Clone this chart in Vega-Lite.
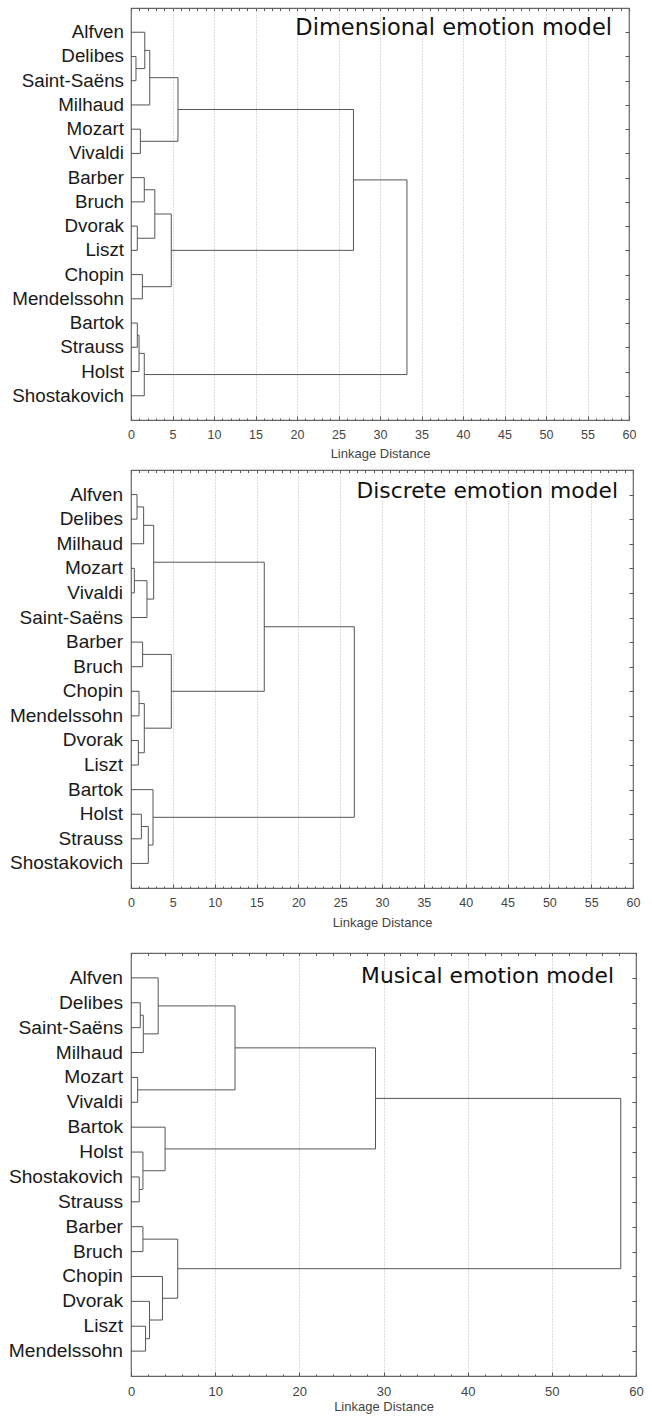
{
  "$schema": "https://vega.github.io/schema/vega-lite/v6.json",
  "background": "white",
  "padding": {"top": 6, "left": 8, "right": 5, "bottom": 2},
  "config": {"font": "Liberation Sans", "view": {"stroke": "#666", "strokeWidth": 1.2}},
  "spacing": 6,
  "datasets": {
    "dim_leaves": [
      {"name": "Alfven", "row": 1}, {"name": "Delibes", "row": 2}, {"name": "Saint-Saëns", "row": 3}, {"name": "Milhaud", "row": 4},
      {"name": "Mozart", "row": 5}, {"name": "Vivaldi", "row": 6}, {"name": "Barber", "row": 7}, {"name": "Bruch", "row": 8},
      {"name": "Dvorak", "row": 9}, {"name": "Liszt", "row": 10}, {"name": "Chopin", "row": 11}, {"name": "Mendelssohn", "row": 12},
      {"name": "Bartok", "row": 13}, {"name": "Strauss", "row": 14}, {"name": "Holst", "row": 15}, {"name": "Shostakovich", "row": 16}
    ],
    "dim_merges": [
      {"height": 0.6, "top": 2, "bottom": 3, "topFrom": 0, "bottomFrom": 0},
      {"height": 1.66, "top": 1, "bottom": 2.5, "topFrom": 0, "bottomFrom": 0.6},
      {"height": 2.26, "top": 1.75, "bottom": 4, "topFrom": 1.66, "bottomFrom": 0},
      {"height": 1.13, "top": 5, "bottom": 6, "topFrom": 0, "bottomFrom": 0},
      {"height": 5.66, "top": 2.875, "bottom": 5.5, "topFrom": 2.26, "bottomFrom": 1.13},
      {"height": 1.6, "top": 7, "bottom": 8, "topFrom": 0, "bottomFrom": 0},
      {"height": 0.76, "top": 9, "bottom": 10, "topFrom": 0, "bottomFrom": 0},
      {"height": 2.87, "top": 7.5, "bottom": 9.5, "topFrom": 1.6, "bottomFrom": 0.76},
      {"height": 1.37, "top": 11, "bottom": 12, "topFrom": 0, "bottomFrom": 0},
      {"height": 4.85, "top": 8.5, "bottom": 11.5, "topFrom": 2.87, "bottomFrom": 1.37},
      {"height": 26.8, "top": 4.1875, "bottom": 10, "topFrom": 5.66, "bottomFrom": 4.85},
      {"height": 0.76, "top": 13, "bottom": 14, "topFrom": 0, "bottomFrom": 0},
      {"height": 0.97, "top": 13.5, "bottom": 15, "topFrom": 0.76, "bottomFrom": 0},
      {"height": 1.6, "top": 14.25, "bottom": 16, "topFrom": 0.97, "bottomFrom": 0},
      {"height": 33.25, "top": 7.09375, "bottom": 15.125, "topFrom": 26.8, "bottomFrom": 1.6}
    ],
    "dis_leaves": [
      {"name": "Alfven", "row": 1}, {"name": "Delibes", "row": 2}, {"name": "Milhaud", "row": 3}, {"name": "Mozart", "row": 4},
      {"name": "Vivaldi", "row": 5}, {"name": "Saint-Saëns", "row": 6}, {"name": "Barber", "row": 7}, {"name": "Bruch", "row": 8},
      {"name": "Chopin", "row": 9}, {"name": "Mendelssohn", "row": 10}, {"name": "Dvorak", "row": 11}, {"name": "Liszt", "row": 12},
      {"name": "Bartok", "row": 13}, {"name": "Holst", "row": 14}, {"name": "Strauss", "row": 15}, {"name": "Shostakovich", "row": 16}
    ],
    "dis_merges": [
      {"height": 0.72, "top": 1, "bottom": 2, "topFrom": 0, "bottomFrom": 0},
      {"height": 1.51, "top": 1.5, "bottom": 3, "topFrom": 0.72, "bottomFrom": 0},
      {"height": 0.4, "top": 4, "bottom": 5, "topFrom": 0, "bottomFrom": 0},
      {"height": 1.91, "top": 4.5, "bottom": 6, "topFrom": 0.4, "bottomFrom": 0},
      {"height": 2.71, "top": 2.25, "bottom": 5.25, "topFrom": 1.51, "bottomFrom": 1.91},
      {"height": 1.39, "top": 7, "bottom": 8, "topFrom": 0, "bottomFrom": 0},
      {"height": 0.96, "top": 9, "bottom": 10, "topFrom": 0, "bottomFrom": 0},
      {"height": 0.88, "top": 11, "bottom": 12, "topFrom": 0, "bottomFrom": 0},
      {"height": 1.59, "top": 9.5, "bottom": 11.5, "topFrom": 0.96, "bottomFrom": 0.88},
      {"height": 4.82, "top": 7.5, "bottom": 10.5, "topFrom": 1.39, "bottomFrom": 1.59},
      {"height": 15.93, "top": 3.75, "bottom": 9, "topFrom": 2.71, "bottomFrom": 4.82},
      {"height": 1.24, "top": 14, "bottom": 15, "topFrom": 0, "bottomFrom": 0},
      {"height": 2.07, "top": 14.5, "bottom": 16, "topFrom": 1.24, "bottomFrom": 0},
      {"height": 2.63, "top": 13, "bottom": 15.25, "topFrom": 0, "bottomFrom": 2.07},
      {"height": 26.69, "top": 6.375, "bottom": 14.125, "topFrom": 15.93, "bottomFrom": 2.63}
    ],
    "mus_leaves": [
      {"name": "Alfven", "row": 1}, {"name": "Delibes", "row": 2}, {"name": "Saint-Saëns", "row": 3}, {"name": "Milhaud", "row": 4},
      {"name": "Mozart", "row": 5}, {"name": "Vivaldi", "row": 6}, {"name": "Bartok", "row": 7}, {"name": "Holst", "row": 8},
      {"name": "Shostakovich", "row": 9}, {"name": "Strauss", "row": 10}, {"name": "Barber", "row": 11}, {"name": "Bruch", "row": 12},
      {"name": "Chopin", "row": 13}, {"name": "Dvorak", "row": 14}, {"name": "Liszt", "row": 15}, {"name": "Mendelssohn", "row": 16}
    ],
    "mus_merges": [
      {"height": 1.1, "top": 2, "bottom": 3, "topFrom": 0, "bottomFrom": 0},
      {"height": 1.46, "top": 2.5, "bottom": 4, "topFrom": 1.1, "bottomFrom": 0},
      {"height": 3.23, "top": 1, "bottom": 3.25, "topFrom": 0, "bottomFrom": 1.46},
      {"height": 0.79, "top": 5, "bottom": 6, "topFrom": 0, "bottomFrom": 0},
      {"height": 12.36, "top": 2.125, "bottom": 5.5, "topFrom": 3.23, "bottomFrom": 0.79},
      {"height": 0.98, "top": 9, "bottom": 10, "topFrom": 0, "bottomFrom": 0},
      {"height": 1.42, "top": 8, "bottom": 9.5, "topFrom": 0, "bottomFrom": 0.98},
      {"height": 4.05, "top": 7, "bottom": 8.75, "topFrom": 0, "bottomFrom": 1.42},
      {"height": 29.05, "top": 3.8125, "bottom": 7.875, "topFrom": 12.36, "bottomFrom": 4.05},
      {"height": 1.42, "top": 11, "bottom": 12, "topFrom": 0, "bottomFrom": 0},
      {"height": 1.73, "top": 15, "bottom": 16, "topFrom": 0, "bottomFrom": 0},
      {"height": 2.2, "top": 14, "bottom": 15.5, "topFrom": 0, "bottomFrom": 1.73},
      {"height": 3.74, "top": 13, "bottom": 14.75, "topFrom": 0, "bottomFrom": 2.2},
      {"height": 5.55, "top": 11.5, "bottom": 13.875, "topFrom": 1.42, "bottomFrom": 3.74},
      {"height": 58.19, "top": 5.84375, "bottom": 12.6875, "topFrom": 29.05, "bottomFrom": 5.55}
    ]
  },
  "vconcat": [
    {
      "width": 498, "height": 412,
      "title": {"text": "Dimensional emotion model", "anchor": "end", "frame": "group", "orient": "top", "offset": -50, "baseline": "alphabetic", "dx": -17, "font": "DejaVu Sans", "fontSize": 22.5, "fontWeight": "normal", "color": "#111"},
      "resolve": {"axis": {"x": "independent", "y": "independent"}},
      "layer": [
        {
          "data": {"name": "dim_merges"},
          "mark": {"type": "rule", "color": "#555", "strokeWidth": 1},
          "encoding": {
            "x": {"field": "height", "type": "quantitative", "scale": {"domain": [0, 60], "nice": false, "zero": false},
              "axis": {"orient": "bottom", "title": "Linkage Distance", "values": [0,1,2,3,4,5,6,7,8,9,10,11,12,13,14,15,16,17,18,19,20,21,22,23,24,25,26,27,28,29,30,31,32,33,34,35,36,37,38,39,40,41,42,43,44,45,46,47,48,49,50,51,52,53,54,55,56,57,58,59,60],
                "labelExpr": "datum.value % 5 === 0 ? datum.label : ''", "labelOverlap": false, "labelFlush": false, "labelFont": "Liberation Sans", "labelFontSize": 12.5, "labelColor": "#444", "labelPadding": 12,
                "ticks": true, "tickColor": "#555", "tickSize": {"condition": {"test": "datum.value % 5 === 0", "value": -4}, "value": -2},
                "domain": false, "grid": true, "gridColor": "#bbb", "gridDash": [1, 2],
                "gridOpacity": {"condition": {"test": "datum.value % 5 === 0 && datum.value > 0 && datum.value < 60", "value": 1}, "value": 0},
                "titleFont": "Liberation Sans", "titleFontSize": 13, "titleFontWeight": "normal", "titleColor": "#444", "titlePadding": 5}},
            "y": {"field": "top", "type": "quantitative", "scale": {"domain": [0, 17], "reverse": true, "nice": false, "zero": false},
              "axis": {"orient": "right", "values": [1,2,3,4,5,6,7,8,9,10,11,12,13,14,15,16], "labels": false, "tickSize": -4, "tickColor": "#555", "domain": false, "grid": false, "title": null}},
            "y2": {"field": "bottom"}
          }
        },
        {
          "data": {"name": "dim_merges"},
          "mark": {"type": "rule", "color": "#555", "strokeWidth": 1},
          "encoding": {
            "x": {"field": "topFrom", "type": "quantitative",
              "axis": {"orient": "top", "values": [0,1,2,3,4,5,6,7,8,9,10,11,12,13,14,15,16,17,18,19,20,21,22,23,24,25,26,27,28,29,30,31,32,33,34,35,36,37,38,39,40,41,42,43,44,45,46,47,48,49,50,51,52,53,54,55,56,57,58,59,60],
                "labels": false, "ticks": true, "tickColor": "#555", "tickSize": -2.5, "domain": false, "grid": false, "title": null}},
            "x2": {"field": "height"},
            "y": {"field": "top", "type": "quantitative", "axis": null}
          }
        },
        {
          "data": {"name": "dim_merges"},
          "mark": {"type": "rule", "color": "#555", "strokeWidth": 1},
          "encoding": {
            "x": {"field": "bottomFrom", "type": "quantitative", "axis": null},
            "x2": {"field": "height"},
            "y": {"field": "bottom", "type": "quantitative", "axis": null}
          }
        },
        {
          "data": {"name": "dim_leaves"},
          "mark": {"type": "text", "align": "right", "baseline": "middle", "dx": -7, "font": "Liberation Sans", "fontSize": 18.8, "color": "#1a1a1a"},
          "encoding": {
            "x": {"datum": 0, "type": "quantitative", "axis": null},
            "y": {"field": "row", "type": "quantitative", "axis": null},
            "text": {"field": "name"}
          }
        }
      ]
    },
    {
      "width": 502, "height": 418,
      "title": {"text": "Discrete emotion model", "anchor": "end", "frame": "group", "orient": "top", "offset": -50, "baseline": "alphabetic", "dx": -15, "font": "DejaVu Sans", "fontSize": 21.8, "fontWeight": "normal", "color": "#111"},
      "resolve": {"axis": {"x": "independent", "y": "independent"}},
      "layer": [
        {
          "data": {"name": "dis_merges"},
          "mark": {"type": "rule", "color": "#555", "strokeWidth": 1},
          "encoding": {
            "x": {"field": "height", "type": "quantitative", "scale": {"domain": [0, 60], "nice": false, "zero": false},
              "axis": {"orient": "bottom", "title": ["Linkage Distance", " "], "titleLineHeight": 14, "values": [0,1,2,3,4,5,6,7,8,9,10,11,12,13,14,15,16,17,18,19,20,21,22,23,24,25,26,27,28,29,30,31,32,33,34,35,36,37,38,39,40,41,42,43,44,45,46,47,48,49,50,51,52,53,54,55,56,57,58,59,60],
                "labelExpr": "datum.value % 5 === 0 ? datum.label : ''", "labelOverlap": false, "labelFlush": false, "labelFont": "Liberation Sans", "labelFontSize": 12.5, "labelColor": "#444", "labelPadding": 12,
                "ticks": true, "tickColor": "#555", "tickSize": {"condition": {"test": "datum.value % 5 === 0", "value": -4}, "value": -2},
                "domain": false, "grid": true, "gridColor": "#bbb", "gridDash": [1, 2],
                "gridOpacity": {"condition": {"test": "datum.value % 5 === 0 && datum.value > 0 && datum.value < 60", "value": 1}, "value": 0},
                "titleFont": "Liberation Sans", "titleFontSize": 13, "titleFontWeight": "normal", "titleColor": "#444", "titlePadding": 6}},
            "y": {"field": "top", "type": "quantitative", "scale": {"domain": [0, 17], "reverse": true, "nice": false, "zero": false},
              "axis": {"orient": "right", "values": [1,2,3,4,5,6,7,8,9,10,11,12,13,14,15,16], "labels": false, "tickSize": -4, "tickColor": "#555", "domain": false, "grid": false, "title": null}},
            "y2": {"field": "bottom"}
          }
        },
        {
          "data": {"name": "dis_merges"},
          "mark": {"type": "rule", "color": "#555", "strokeWidth": 1},
          "encoding": {
            "x": {"field": "topFrom", "type": "quantitative",
              "axis": {"orient": "top", "values": [0,1,2,3,4,5,6,7,8,9,10,11,12,13,14,15,16,17,18,19,20,21,22,23,24,25,26,27,28,29,30,31,32,33,34,35,36,37,38,39,40,41,42,43,44,45,46,47,48,49,50,51,52,53,54,55,56,57,58,59,60],
                "labels": false, "ticks": true, "tickColor": "#555", "tickSize": -2.5, "domain": false, "grid": false, "title": null}},
            "x2": {"field": "height"},
            "y": {"field": "top", "type": "quantitative", "axis": null}
          }
        },
        {
          "data": {"name": "dis_merges"},
          "mark": {"type": "rule", "color": "#555", "strokeWidth": 1},
          "encoding": {
            "x": {"field": "bottomFrom", "type": "quantitative", "axis": null},
            "x2": {"field": "height"},
            "y": {"field": "bottom", "type": "quantitative", "axis": null}
          }
        },
        {
          "data": {"name": "dis_leaves"},
          "mark": {"type": "text", "align": "right", "baseline": "middle", "dx": -8, "font": "Liberation Sans", "fontSize": 19, "color": "#1a1a1a"},
          "encoding": {
            "x": {"datum": 0, "type": "quantitative", "axis": null},
            "y": {"field": "row", "type": "quantitative", "axis": null},
            "text": {"field": "name"}
          }
        }
      ]
    },
    {
      "width": 505, "height": 423,
      "title": {"text": "Musical emotion model", "anchor": "end", "frame": "group", "orient": "top", "offset": -52, "baseline": "alphabetic", "dx": -22, "font": "DejaVu Sans", "fontSize": 21.8, "fontWeight": "normal", "color": "#111"},
      "resolve": {"axis": {"x": "independent", "y": "independent"}},
      "layer": [
        {
          "data": {"name": "mus_merges"},
          "mark": {"type": "rule", "color": "#555", "strokeWidth": 1},
          "encoding": {
            "x": {"field": "height", "type": "quantitative", "scale": {"domain": [0, 60], "nice": false, "zero": false},
              "axis": {"orient": "bottom", "title": "Linkage Distance", "values": [0,2,4,6,8,10,12,14,16,18,20,22,24,26,28,30,32,34,36,38,40,42,44,46,48,50,52,54,56,58,60],
                "labelExpr": "datum.value % 10 === 0 ? datum.label : ''", "labelOverlap": false, "labelFlush": false, "labelFont": "Liberation Sans", "labelFontSize": 13, "labelColor": "#444", "labelPadding": 13,
                "ticks": true, "tickColor": "#555", "tickSize": {"condition": {"test": "datum.value % 10 === 0", "value": -4}, "value": -2},
                "domain": false, "grid": true, "gridColor": "#bbb", "gridDash": [1, 2],
                "gridOpacity": {"condition": {"test": "datum.value % 10 === 0 && datum.value > 0 && datum.value < 60", "value": 1}, "value": 0},
                "titleFont": "Liberation Sans", "titleFontSize": 13, "titleFontWeight": "normal", "titleColor": "#444", "titlePadding": 0}},
            "y": {"field": "top", "type": "quantitative", "scale": {"domain": [0, 17], "reverse": true, "nice": false, "zero": false},
              "axis": {"orient": "right", "values": [1,2,3,4,5,6,7,8,9,10,11,12,13,14,15,16], "labels": false, "tickSize": -4, "tickColor": "#555", "domain": false, "grid": false, "title": null}},
            "y2": {"field": "bottom"}
          }
        },
        {
          "data": {"name": "mus_merges"},
          "mark": {"type": "rule", "color": "#555", "strokeWidth": 1},
          "encoding": {
            "x": {"field": "topFrom", "type": "quantitative",
              "axis": {"orient": "top", "values": [0,2,4,6,8,10,12,14,16,18,20,22,24,26,28,30,32,34,36,38,40,42,44,46,48,50,52,54,56,58,60],
                "labels": false, "ticks": true, "tickColor": "#555", "tickSize": -2.5, "domain": false, "grid": false, "title": null}},
            "x2": {"field": "height"},
            "y": {"field": "top", "type": "quantitative", "axis": null}
          }
        },
        {
          "data": {"name": "mus_merges"},
          "mark": {"type": "rule", "color": "#555", "strokeWidth": 1},
          "encoding": {
            "x": {"field": "bottomFrom", "type": "quantitative", "axis": null},
            "x2": {"field": "height"},
            "y": {"field": "bottom", "type": "quantitative", "axis": null}
          }
        },
        {
          "data": {"name": "mus_leaves"},
          "mark": {"type": "text", "align": "right", "baseline": "middle", "dx": -8, "font": "Liberation Sans", "fontSize": 19.2, "color": "#1a1a1a"},
          "encoding": {
            "x": {"datum": 0, "type": "quantitative", "axis": null},
            "y": {"field": "row", "type": "quantitative", "axis": null},
            "text": {"field": "name"}
          }
        }
      ]
    }
  ]
}
